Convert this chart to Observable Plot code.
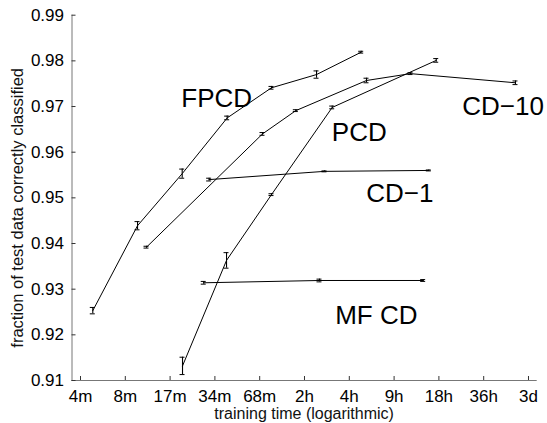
<!DOCTYPE html>
<html>
<head>
<meta charset="utf-8">
<script src="https://cdn.jsdelivr.net/npm/d3@7"></script>
<script src="https://cdn.jsdelivr.net/npm/@observablehq/plot@0.6"></script>
<style>
  body { margin: 0; background: #fff; }
  #chart svg { display: block; }
</style>
</head>
<body>
<div id="chart"></div>
<script>
// ---- data (training time in minutes, fraction correct, error half-width) ----
const fpcdTime = [5.14, 10.27, 20.5, 41.1, 81.6, 163.8, 327];
const fpcdAcc  = [0.9253, 0.9439, 0.9553, 0.9675, 0.9741, 0.9770, 0.9819];
const fpcdErr  = [0.0007, 0.0009, 0.0010, 0.0004, 0.0003, 0.0008, 0.0002];

const cd10Time = [11.8, 71.0, 118.9, 355, 701, 3559];
const cd10Acc  = [0.9392, 0.9640, 0.9691, 0.9757, 0.9772, 0.9752];
const cd10Err  = [0.0002, 0.0003, 0.0002, 0.0005, 0.0002, 0.0004];

const pcdTime = [20.6, 40.7, 81.6, 208.8, 1044];
const pcdAcc  = [0.9132, 0.9363, 0.9507, 0.9698, 0.9801];
const pcdErr  = [0.0019, 0.0017, 0.0002, 0.0003, 0.0004];

const cd1Time = [31.1, 185.3, 931];
const cd1Acc  = [0.9540, 0.9558, 0.9560];
const cd1Err  = [0.0003, 0.0001, 0.0001];

const mfTime = [28.6, 171.5, 853];
const mfAcc  = [0.9314, 0.9319, 0.9319];
const mfErr  = [0.0003, 0.0003, 0.0002];

// curve labels (placed in data coordinates)
const labelText = ["FPCD", "PCD", "CD\u221210", "CD\u22121", "MF CD"];
const labelTime = [20.2, 207.5, 1562, 353.7, 218.7];
const labelAcc  = [0.97171, 0.96437, 0.97007, 0.95086, 0.92422];

// axis ticks
const xTickMinutes = [4.25, 8.5, 17, 34, 68, 136, 272, 544, 1088, 2176, 4352];
const xTickLabels  = ["4m", "8m", "17m", "34m", "68m", "2h", "4h", "9h", "18h", "36h", "3d"];
const yTicks = [0.91, 0.92, 0.93, 0.94, 0.95, 0.96, 0.97, 0.98, 0.99];

// ---- build tables ----
const seriesDefs = [
  ["FPCD", fpcdTime, fpcdAcc, fpcdErr],
  ["CD-10", cd10Time, cd10Acc, cd10Err],
  ["PCD", pcdTime, pcdAcc, pcdErr],
  ["CD-1", cd1Time, cd1Acc, cd1Err],
  ["MF CD", mfTime, mfAcc, mfErr]
];
const points = [];
for (const [name, t, a, e] of seriesDefs) {
  t.forEach((tt, i) => points.push({series: name, time: tt, acc: a[i], lo: a[i] - e[i], hi: a[i] + e[i]}));
}
const labels = labelText.map((s, i) => ({text: s, time: labelTime[i], acc: labelAcc[i]}));
const xTicks = xTickMinutes.map((v, i) => ({v, label: xTickLabels[i]}));

const font = "'Liberation Sans', Arial, Helvetica, sans-serif";

const chart = Plot.plot({
  width: 547,
  height: 423,
  marginLeft: 71.5,
  marginRight: 11.3,
  marginTop: 14.7,
  marginBottom: 43,
  style: {fontFamily: font, background: "#fff", color: "#000"},
  x: {type: "log", domain: [3.726, 4903]},
  y: {domain: [0.91, 0.99]},
  marks: [
    Plot.frame({anchor: "left", stroke: "#777"}),
    Plot.frame({anchor: "bottom", stroke: "#777"}),
    Plot.axisX({ticks: xTickMinutes, tickFormat: () => "", tickSize: -4, label: null, stroke: "#333"}),
    Plot.text(xTicks, {x: "v", text: "label", frameAnchor: "bottom", textAnchor: "middle", lineAnchor: "middle",
                       dy: 16, fontSize: 17, fill: "#000"}),
    Plot.axisY({ticks: yTicks, tickFormat: d3.format(".2f"), tickSize: -4, tickPadding: 12,
                fontSize: 17, label: null, stroke: "#333"}),
    Plot.text(["training time (logarithmic)"], {frameAnchor: "bottom", textAnchor: "middle", lineAnchor: "middle",
                                                 dy: 33, fontSize: 16, fill: "#111"}),
    Plot.text(["fraction of test data correctly classified"], {frameAnchor: "left", textAnchor: "middle", lineAnchor: "middle",
                                                               rotate: -90, dx: -54, dy: 10, fontSize: 16.5, fill: "#111"}),
    Plot.line(points, {x: "time", y: "acc", z: "series", stroke: "#000", strokeWidth: 1}),
    Plot.ruleX(points, {x: "time", y1: "lo", y2: "hi", stroke: "#000", strokeWidth: 1.1}),
    Plot.ruleY(points, {y: "hi", x1: "time", x2: "time", insetLeft: -2.5, insetRight: -2.5, stroke: "#000", strokeWidth: 1}),
    Plot.ruleY(points, {y: "lo", x1: "time", x2: "time", insetLeft: -2.5, insetRight: -2.5, stroke: "#000", strokeWidth: 1}),
    Plot.text(labels, {x: "time", y: "acc", text: "text", textAnchor: "start", lineAnchor: "middle", fontSize: 26, fill: "#000"})
  ]
});
document.getElementById("chart").appendChild(chart);
</script>
</body>
</html>
